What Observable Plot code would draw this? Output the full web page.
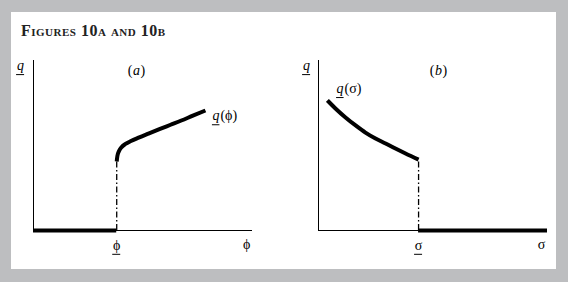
<!DOCTYPE html>
<html><head><meta charset="utf-8">
<script src="https://cdn.jsdelivr.net/npm/d3@7"></script>
<script src="https://cdn.jsdelivr.net/npm/@observablehq/plot@0.6"></script>
<style>
body{margin:0;background:#bdbec0;}
#fig{position:relative;width:568px;height:282px;overflow:hidden;}
#card{position:absolute;left:11px;top:12px;width:545px;height:257px;background:#fff;}
#title{position:absolute;left:10px;top:11px;font:bold 16px "Liberation Serif",serif;font-variant:small-caps;letter-spacing:0.5px;color:#222;line-height:1;}
.panel{position:absolute;top:38px;}
#pa{left:0px;}
#pb{left:273px;}
</style></head><body>
<div id="fig"><div id="card"><div id="title">Figures 10a and 10b</div><div id="pa" class="panel"></div><div id="pb" class="panel"></div></div></div>
<script>
// Panel (a): q(phi), zero below the threshold phi_
const phiLow = 38;
const curveAx = [38, 38.3, 39, 40.2, 42, 44.5, 48, 52.5, 57.5, 62.6, 67.5, 72.5, 78.5];
const curveAy = [40.6, 43.8, 46.6, 49, 50.9, 52.6, 54.6, 57, 59.6, 62.2, 64.7, 67.4, 70.6];
// Panel (b): q(sigma), zero above the threshold sigma_
const sigmaLow = 43.7;
const curveBx = [3.9, 7.4, 11.8, 16.2, 20.5, 24.9, 29.3, 33.6, 38.0, 43.7];
const curveBy = [76.5, 71.8, 66.5, 61.8, 57.6, 54.1, 51.2, 48.2, 45.3, 41.7];
// Text labels
const panelTags = [["(", "a", ")"], ["(", "b", ")"]];
const yLabel = "q";
const curveLabels = [["q", "(\u03d5)"], ["q", "(\u03c3)"]];
const tickLabelsA = ["\u03d5", "\u03d5"];
const tickLabelsB = ["\u03c3", "\u03c3"];

const serif = "Liberation Serif";
const toPts = (xs, ys) => xs.map((x, i) => ({x, y: ys[i]}));

// a short underline beneath a label placed at (x, y)
const underline = (x, y, left, right, dy) =>
  Plot.ruleY([y], {x1: x, x2: x, insetLeft: -left, insetRight: -right, dy, stroke: "#000", strokeWidth: 1});

function panel({curve, low, lowSide, tag, tagX, lab, labX, labY, ticks, tickXs, yLabX, width, ml, mr}) {
  const start = curve[lowSide === "left" ? 0 : curve.length - 1];
  const base = {fontFamily: serif, fontSize: 14, fill: "#000"};
  return Plot.plot({
    width, height: 219,
    marginLeft: ml, marginRight: mr, marginTop: 10, marginBottom: 39,
    x: {domain: [0, 100], axis: null},
    y: {domain: [0, 100], axis: null},
    style: {background: "transparent", overflow: "visible"},
    marks: [
      Plot.ruleX([0], {y1: 0, y2: 100, stroke: "#000", strokeWidth: 1}),
      Plot.ruleY([0], {x1: 0, x2: 100, stroke: "#000", strokeWidth: 1}),
      Plot.ruleY([0], lowSide === "left" ? {x1: 0, x2: low, stroke: "#000", strokeWidth: 4} : {x1: low, x2: 100, stroke: "#000", strokeWidth: 4}),
      Plot.ruleX([low], {y1: 0, y2: start.y, stroke: "#000", strokeWidth: 1.3, strokeDasharray: "6,2.5,1.5,2.5"}),
      Plot.line(curve, {x: "x", y: "y", stroke: "#000", strokeWidth: 4, curve: "monotone-x", strokeLinecap: "butt"}),
      Plot.text([yLabel], {x: yLabX, y: 97, text: d => d, ...base, fontStyle: "italic"}),
      underline(yLabX, 97, 4, 4, 9),
      Plot.text([tag[0]], {x: tagX, y: 94, dx: -4, text: d => d, ...base, textAnchor: "end"}),
      Plot.text([tag[1]], {x: tagX, y: 94, text: d => d, ...base, fontStyle: "italic"}),
      Plot.text([tag[2]], {x: tagX, y: 94, dx: 4, text: d => d, ...base, textAnchor: "start"}),
      Plot.text([lab[0]], {x: labX, y: labY, text: d => d, textAnchor: "start", ...base, fontStyle: "italic"}),
      underline(labX, labY, 0, 7.5, 9),
      Plot.text([lab[1]], {x: labX, y: labY, dx: 8, text: d => d, textAnchor: "start", ...base}),
      Plot.text([ticks[0]], {x: tickXs[0], y: -9, text: d => d, ...base}),
      underline(tickXs[0], -9, 4, 4, 8.5),
      Plot.text([ticks[1]], {x: tickXs[1], y: -8.2, text: d => d, ...base})
    ]
  });
}

document.getElementById("pa").append(panel({
  curve: toPts(curveAx, curveAy), low: phiLow, lowSide: "left",
  tag: panelTags[0], tagX: 47, lab: curveLabels[0], labX: 81.7, labY: 67.5,
  ticks: tickLabelsA, tickXs: [phiLow, 97.3], yLabX: -5.9,
  width: 273, ml: 22, mr: 32
}));
document.getElementById("pb").append(panel({
  curve: toPts(curveBx, curveBy), low: sigmaLow, lowSide: "right",
  tag: panelTags[1], tagX: 52.4, lab: curveLabels[1], labX: 7.9, labY: 83.5,
  ticks: tickLabelsB, tickXs: [sigmaLow, 97.4], yLabX: -5.2,
  width: 272, ml: 34, mr: 9
}));
</script>
</body></html>
